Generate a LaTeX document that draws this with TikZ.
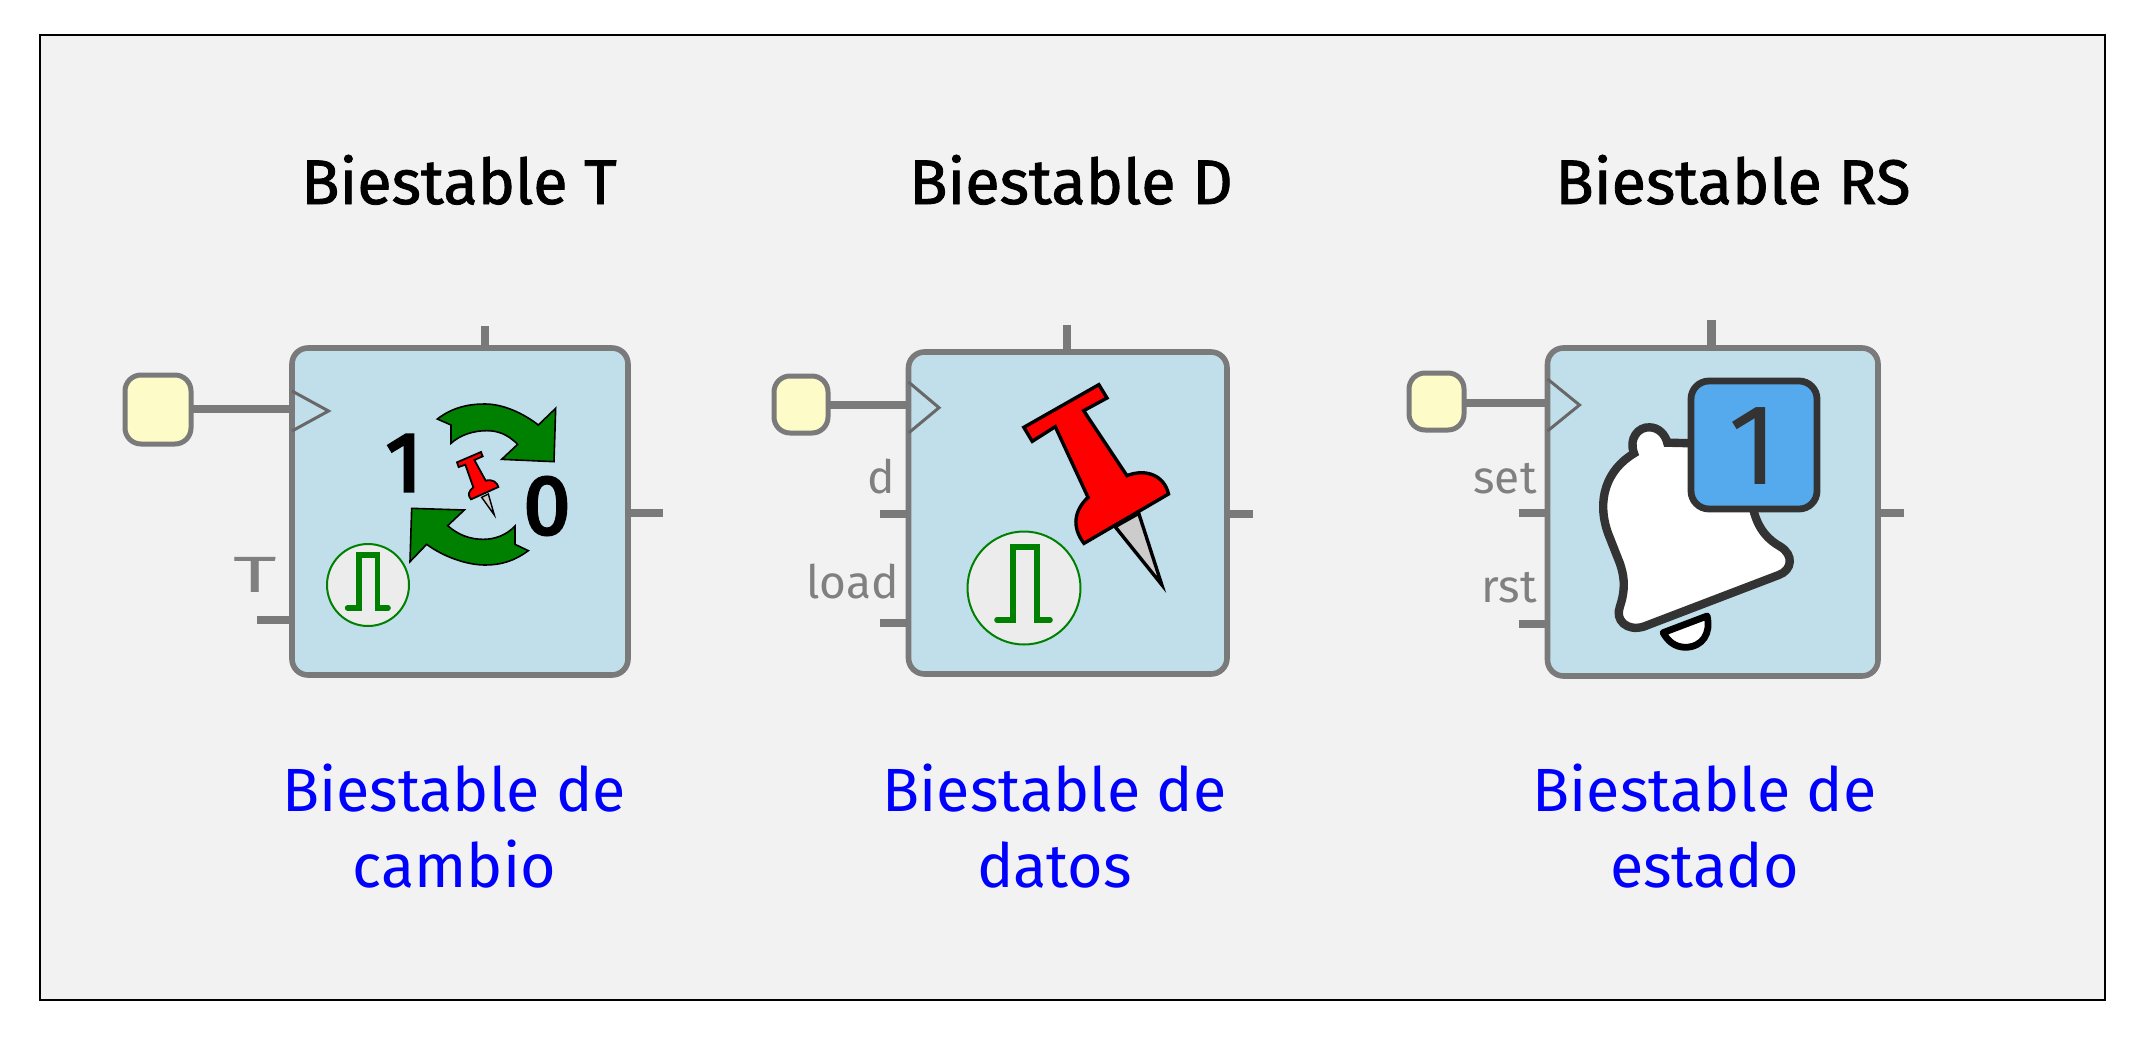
\documentclass[tikz,border=0pt]{standalone}
\usepackage{fontspec}
\setmainfont{Fira Sans}
\newfontfamily\titlefont[FakeBold=1.3]{Fira Sans}
\newfontfamily\digitfont[FakeBold=3.6]{Fira Sans}
\definecolor{framefill}{HTML}{F2F2F2}
\definecolor{blockfill}{HTML}{C1DFEA}
\definecolor{edge}{HTML}{7A7A7A}
\definecolor{yellowfill}{HTML}{FDFBC8}
\definecolor{lab}{HTML}{808080}
\definecolor{pulsefill}{HTML}{ECECEC}
\definecolor{pulsegreen}{HTML}{008000}
\definecolor{bluebox}{HTML}{55AAEE}
\definecolor{ink}{HTML}{333333}
\newcommand{\fs}[1]{\fontsize{#1}{#1}\selectfont}
\tikzset{
  x=0.5pt,y=-0.5pt,
  frame/.style={draw=black,line width=0.75pt,fill=framefill},
  block/.style={draw=edge,fill=blockfill,line width=2.8pt,rounded corners=8pt,inner sep=0pt,outer sep=0pt},
  ybox/.style={draw=edge,fill=yellowfill,line width=2.5pt,rounded corners=8pt,inner sep=0pt,outer sep=0pt},
  stub/.style={draw=edge,line width=4.4pt},
  clock/.style={draw=edge!85!black,line width=1.5pt},
  title/.style={inner sep=0pt,font=\titlefont\fs{31.5},anchor=base},
  desc/.style={inner sep=0pt,text=blue,font=\fs{30.5},align=center,anchor=base},
  port/.style={inner sep=0pt,text=lab,anchor=base east,font=\fs{23}},
  pulsecirc/.style={draw=pulsegreen,fill=pulsefill,line width=1pt,circle,inner sep=0pt,outer sep=0pt},
  pulse/.style={draw=pulsegreen,line width=2.8pt,line cap=round,line join=miter},
  sym/.style={inner sep=0pt,anchor=base,text=black},
  garrow/.style={draw=black,fill=pulsegreen,line width=0.8pt,line join=miter},
  pinhead/.style={fill=red,draw=black,line join=miter},
  pinneedle/.style={fill=black!20,draw=black,line join=miter},
  bell/.style={draw=ink,fill=white,line width=4.2pt},
  clapper/.style={draw=black,fill=white,line width=3.4pt,line join=round},
  badge/.style={draw=ink,fill=bluebox,line width=3.4pt,rounded corners=9pt,inner sep=0pt,outer sep=0pt,minimum width=63pt,minimum height=64pt},
}
\newcommand{\boxat}[7]{% style, name, l, t, r, b, (unused)
  \pgfmathsetmacro{\bw}{(#5-#3)*0.5}\pgfmathsetmacro{\bh}{(#6-#4)*0.5}
  \pgfmathsetmacro{\bx}{(#3+#5)/2}\pgfmathsetmacro{\by}{(#4+#6)/2}
  \node[#1,minimum width=\bw pt,minimum height=\bh pt] (#2) at (\bx,\by) {};
}
\begin{document}
\begin{tikzpicture}
\useasboundingbox (0,0) rectangle (2143,1039);
\fill[white] (0,0) rectangle (2143,1039);
\draw[frame] (40,35) rectangle (2105,1000);

% ---------- titles and captions
\node[title] (t1) at (459,204) {Biestable T};
\node[title] (t2) at (1071,204) {Biestable D};
\node[title] (t3) at (1733,204) {Biestable RS};
\node[desc] (d1a) at (454,811) {Biestable de};
\node[desc] (d1b) at (454.5,887) {cambio};
\node[desc] (d2a) at (1054.5,811) {Biestable de};
\node[desc] (d2b) at (1054.5,887) {datos};
\node[desc] (d3a) at (1704.5,811) {Biestable de};
\node[desc] (d3b) at (1704.5,887) {estado};

% ---------- block T
\coordinate (s1t) at (485,326);
\coordinate (s1r) at (663,513);
\coordinate (s1l) at (257,620);
\boxat{block}{b1}{292}{348}{628}{675}{}
\draw[stub] (s1t) -- (s1t |- b1.north);
\draw[stub] (s1r) -- (s1r -| b1.east);
\draw[stub] (s1l) -- (s1l -| b1.west);
\boxat{ybox}{y1}{125}{375}{191}{444}{}
\coordinate (w1) at (y1.east |- 0,409);
\draw[stub] (w1) -- (w1 -| b1.west);
\coordinate (c1a) at (292,391);\coordinate (c1b) at (328.5,411);\coordinate (c1c) at (292,431);
\draw[clock] (c1a) -- (c1b) -- (c1c);
\node[port,anchor=base,font=\fs{25.5}] (pT) at (255,592) {\scalebox{1.65}[1]{T}};
\node[pulsecirc,minimum size=41pt] (pc1) at (368,585) {};
\draw[pulse] (347.6,608) -- (359,608) -- (359,555) -- (377.5,555) -- (377.5,608) -- (388,608);
\node[sym,font=\digitfont\fs{42}] (n1) at (404,491) {1};
\node[sym,font=\digitfont\fs{42}] (n0) at (547,534) {0};
\begin{scope}[shift={(370,390)},scale=1/3]
  \draw[garrow] (202,87) .. controls (250,50) and (300,42) .. (345,42) .. controls (400,42) and (460,70) .. (505,105)
     -- (557,55) -- (552,215) -- (395,208) -- (443,163) .. controls (410,130) and (380,122) .. (350,122)
     .. controls (310,122) and (270,135) .. (243,160) -- (243,105) -- cycle;
  \draw[garrow] (475,482) .. controls (430,515) and (390,525) .. (345,525) .. controls (290,525) and (220,500) .. (170,463)
     -- (120,515) -- (125,355) -- (283,360) -- (233,407) .. controls (265,435) and (300,448) .. (340,448)
     .. controls (375,448) and (410,435) .. (435,408) -- (435,463) -- cycle;
  \draw[pinneedle,line width=0.7pt] (335,322) -- (373,375) -- (355,312) -- cycle;
  \draw[pinhead,line width=0.9pt] (261,217) -- (333,186) -- (338,199) -- (313,210) -- (347,272)
     .. controls (368,266) and (382,278) .. (385,291) -- (303,328)
     .. controls (292,316) and (296,302) .. (310,292) -- (286,224) -- (266,231) -- cycle;
\end{scope}

% ---------- block D
\coordinate (s2t) at (1067,325);
\coordinate (s2r) at (1253,514);
\coordinate (s2l) at (880,514);
\coordinate (s2m) at (880,623);
\boxat{block}{b2}{908.5}{352}{1227}{674}{}
\draw[stub] (s2t) -- (s2t |- b2.north);
\draw[stub] (s2r) -- (s2r -| b2.east);
\draw[stub] (s2l) -- (s2l -| b2.west);
\draw[stub] (s2m) -- (s2m -| b2.west);
\boxat{ybox}{y2}{774}{376}{828}{433}{}
\coordinate (w2) at (y2.east |- 0,405);
\draw[stub] (w2) -- (w2 -| b2.west);
\coordinate (c2a) at (908.5,382);\coordinate (c2b) at (939,407.7);\coordinate (c2c) at (908.5,433);
\draw[clock] (c2a) -- (c2b) -- (c2c);
\node[port] (pd) at (895,493) {d};
\node[port] (pload) at (899,598) {load};
\node[pulsecirc,minimum size=56.5pt] (pc2) at (1024,588) {};
\draw[pulse] (997,620) -- (1013,620) -- (1013,547) -- (1037,547) -- (1037,620) -- (1050,620);
\begin{scope}[shift={(750,310)},xscale=1/2.958,yscale=1/3]
  \draw[pinneedle,line width=1.7pt] (1080,650) -- (1218,824) -- (1150,610) -- cycle;
  \draw[pinhead,line width=1.7pt] (810,352) -- (1032,224) -- (1056,264) -- (987,302) -- (1115,497)
     .. controls (1170,475) and (1225,495) .. (1238,552) -- (988,700)
     .. controls (950,650) and (960,600) .. (1000,562) -- (903,350) -- (835,394) -- cycle;
\end{scope}

% ---------- block RS
\coordinate (s3t) at (1711.5,320);
\coordinate (s3r) at (1904,513);
\coordinate (s3l) at (1518.5,513);
\coordinate (s3m) at (1518.5,624);
\boxat{block}{b3}{1547.5}{348}{1878}{676}{}
\draw[stub] (s3t) -- (s3t |- b3.north);
\draw[stub] (s3r) -- (s3r -| b3.east);
\draw[stub] (s3l) -- (s3l -| b3.west);
\draw[stub] (s3m) -- (s3m -| b3.west);
\boxat{ybox}{y3}{1409}{373}{1464}{430}{}
\coordinate (w3) at (y3.east |- 0,403);
\draw[stub] (w3) -- (w3 -| b3.west);
\coordinate (c3a) at (1547.5,379);\coordinate (c3b) at (1579.5,405);\coordinate (c3c) at (1547.5,431);
\draw[clock] (c3a) -- (c3b) -- (c3c);
\node[port] (pset) at (1537,493) {set};
\node[port] (prst) at (1537,602) {rst};
\begin{scope}[shift={(1390,310)},xscale=1/2.958,yscale=1/3]
  \draw[bell] (722,430) .. controls (705,385) and (735,350) .. (768,352)
     .. controls (795,352) and (815,375) .. (820,398) -- (900,400) -- (1075,600)
     .. controls (1090,660) and (1120,690) .. (1155,710)
     .. controls (1195,735) and (1190,780) .. (1150,795) -- (750,950)
     .. controls (700,965) and (665,930) .. (680,890)
     .. controls (700,830) and (690,790) .. (680,760) -- (645,670)
     .. controls (610,570) and (640,480) .. (722,430) -- cycle;
  \draw[clapper] (808,968) -- (938,918) .. controls (950,970) and (925,1010) .. (875,1012)
     .. controls (840,1012) and (820,990) .. (808,968) -- cycle;
\end{scope}
\node[badge] (bd) at (1754,445) {};
\node[sym,text=ink,font=\fs{57.5}] (bd1) at (1753,484) {1};
\end{tikzpicture}
\end{document}
